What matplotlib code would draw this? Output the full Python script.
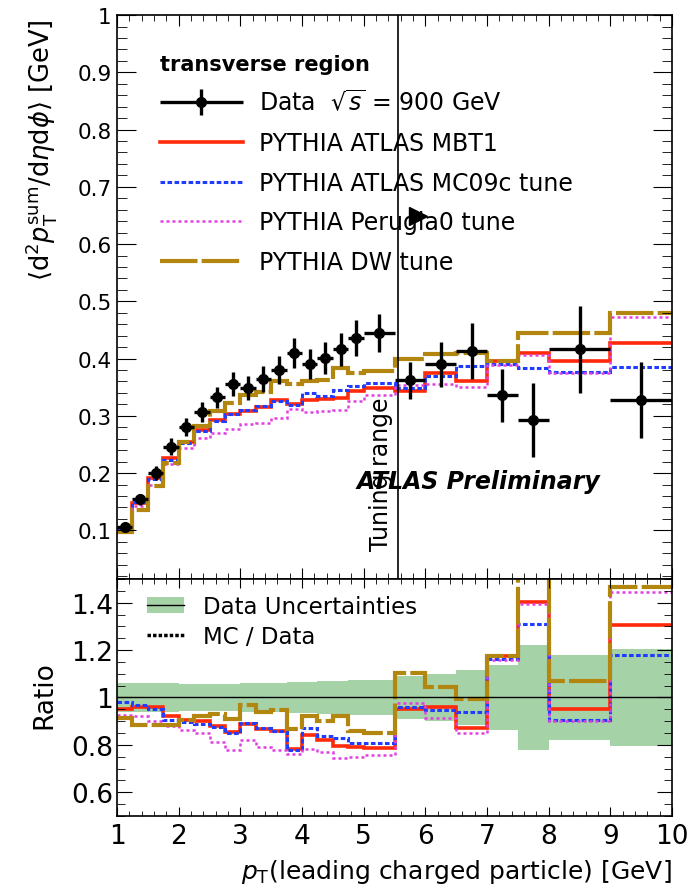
import matplotlib
matplotlib.use("Agg")
import matplotlib.pyplot as plt
import numpy as np
from matplotlib.ticker import MultipleLocator, FuncFormatter
from matplotlib.lines import Line2D
from matplotlib.patches import Patch
from matplotlib.legend_handler import HandlerErrorbar
from matplotlib.container import ErrorbarContainer

plt.rcParams['font.family'] = ['DejaVu Sans']
plt.rcParams['mathtext.fontset'] = 'dejavusans'

# bin edges in leading charged particle pT [GeV]
edges = [1.0, 1.25, 1.5, 1.75, 2.0, 2.25, 2.5, 2.75, 3.0, 3.25, 3.5, 3.75, 4.0,
         4.25, 4.5, 4.75, 5.0, 5.5, 6.0, 6.5, 7.0, 7.5, 8.0, 9.0, 10.0]

# data, sqrt(s) = 900 GeV
data = [0.106, 0.154, 0.200, 0.246, 0.281, 0.307, 0.332, 0.356, 0.348, 0.364, 0.380, 0.410,
        0.390, 0.401, 0.416, 0.436, 0.444, 0.362, 0.390, 0.413, 0.336, 0.292, 0.416, 0.327]
data_err = [0.0064, 0.0092, 0.012, 0.0148, 0.016, 0.0175, 0.0189, 0.0206, 0.0209, 0.0226,
            0.0239, 0.0267, 0.0261, 0.0273, 0.0291, 0.0314, 0.0333, 0.0326, 0.039, 0.0483,
            0.046, 0.0648, 0.0753, 0.0664]

# MC predictions
mbt1 = [0.101, 0.148, 0.192, 0.227, 0.254, 0.276, 0.292, 0.304, 0.309, 0.316, 0.327, 0.320,
        0.328, 0.329, 0.331, 0.344, 0.349, 0.344, 0.374, 0.360, 0.395, 0.409, 0.396, 0.427]
mc09c = [0.104, 0.149, 0.190, 0.223, 0.252, 0.273, 0.291, 0.303, 0.310, 0.317, 0.326, 0.319,
         0.340, 0.335, 0.345, 0.352, 0.358, 0.348, 0.369, 0.387, 0.391, 0.383, 0.376, 0.385]
perugia0 = [0.098, 0.142, 0.180, 0.216, 0.243, 0.261, 0.270, 0.277, 0.285, 0.288, 0.296, 0.312,
            0.306, 0.309, 0.310, 0.326, 0.336, 0.353, 0.356, 0.351, 0.389, 0.407, 0.375, 0.472]
dw = [0.097, 0.136, 0.177, 0.217, 0.254, 0.283, 0.309, 0.323, 0.337, 0.341, 0.360, 0.355,
      0.360, 0.362, 0.383, 0.375, 0.378, 0.400, 0.408, 0.410, 0.395, 0.444, 0.445, 0.480]

edges = np.array(edges)
data = np.array(data)
data_err = np.array(data_err)
centers = 0.5 * (edges[1:] + edges[:-1])
halfw = 0.5 * (edges[1:] - edges[:-1])

red = '#ff2a0a'
blue = '#1f3cff'
magenta = '#e040e0'
gold = '#b3860f'
green = '#a6d2a8'

mc = [
    (mbt1, 'PYTHIA ATLAS MBT1', dict(color=red, lw=2.6, ls='-')),
    (mc09c, 'PYTHIA ATLAS MC09c tune', dict(color=blue, lw=2.2, ls=(0, (1.5, 0.8)))),
    (perugia0, 'PYTHIA Perugia0 tune', dict(color=magenta, lw=1.8, ls=(0, (1.2, 1.2)))),
    (dw, 'PYTHIA DW tune', dict(color=gold, lw=3.0, ls=(0, (9, 1.0)))),
]

fig = plt.figure(figsize=(6.94, 8.95), dpi=100)
ax = fig.add_axes([0.1686, 0.352, 0.7997, 0.630])
ax2 = fig.add_axes([0.1686, 0.0872, 0.7997, 0.2648])

# main panel
for vals, lab, st in mc:
    ax.stairs(vals, edges, baseline=None, **st)
eb = ax.errorbar(centers, data, xerr=halfw, yerr=data_err, fmt='o', color='k', ms=7,
                 elinewidth=2.4, capsize=0)

ax.axvline(5.55, color='k', lw=1.2)
ax.text(5.47, 0.066, 'Tuning range', rotation=90, ha='right', va='bottom', fontsize=17)
ax.plot(5.88, 0.649, marker='>', ms=13, color='k')
ax.text(4.89, 0.187, 'ATLAS Preliminary', fontsize=17, fontweight='bold', fontstyle='italic',
        ha='left', va='center')

ax.set_xlim(1, 10)
ax.set_ylim(0.015, 1.0)
ax.xaxis.set_major_locator(MultipleLocator(1))
ax.xaxis.set_minor_locator(MultipleLocator(0.2))
ax.yaxis.set_major_locator(MultipleLocator(0.1))
ax.yaxis.set_minor_locator(MultipleLocator(0.02))
ax.yaxis.set_major_formatter(FuncFormatter(lambda v, p: '%g' % round(v, 2)))
ax.tick_params(axis='x', which='both', direction='in', top=True, bottom=True, labelbottom=False)
ax.tick_params(axis='x', which='major', length=8)
ax.tick_params(axis='x', which='minor', length=4)
ax.tick_params(axis='y', which='both', direction='in', left=True, right=True, labelsize=15.5, pad=4)
ax.tick_params(axis='y', which='major', length=14)
ax.tick_params(axis='y', which='minor', length=7)
ax.set_ylabel(r'$\langle\mathrm{d}^2p_\mathrm{T}^\mathrm{sum}/\mathrm{d}\eta\mathrm{d}\phi\rangle$ [GeV]',
              fontsize=18.5, ha='right')
ax.yaxis.set_label_coords(-0.105, 0.995)

handles = [eb] + [Line2D([], [], **st) for vals, lab, st in mc]
labels = [r'Data  $\sqrt{s}$ = 900 GeV'] + [lab for vals, lab, st in mc]
leg = ax.legend(handles, labels, loc='upper left', bbox_to_anchor=(160 / 694, 1 - 55 / 895),
                bbox_transform=fig.transFigure, frameon=False, fontsize=17,
                title='transverse region', title_fontproperties={'weight': 'bold', 'size': 15},
                alignment='left', borderpad=0, borderaxespad=0, labelspacing=0.66,
                handlelength=3.5, handletextpad=0.7,
                handler_map={ErrorbarContainer: HandlerErrorbar(xerr_size=1.75, yerr_size=0.55)})

# ratio panel
rel = data_err / data
ax2.stairs(1 + rel, edges, baseline=1 - rel, fill=True, color=green, lw=0)
ax2.axhline(1.0, color='k', lw=1)
for vals, lab, st in mc:
    ax2.stairs(np.array(vals) / data, edges, baseline=None, **st)

ax2.set_xlim(1, 10)
ax2.set_ylim(0.5, 1.5)
ax2.xaxis.set_major_locator(MultipleLocator(1))
ax2.xaxis.set_minor_locator(MultipleLocator(0.2))
ax2.yaxis.set_major_locator(MultipleLocator(0.2))
ax2.yaxis.set_minor_locator(MultipleLocator(0.05))
ax2.yaxis.set_major_formatter(FuncFormatter(lambda v, p: '%g' % round(v, 2) if v < 1.45 else ''))
ax2.tick_params(axis='x', which='both', direction='in', top=True, bottom=True, labelsize=19, pad=5)
ax2.tick_params(axis='x', which='major', length=6.5)
ax2.tick_params(axis='x', which='minor', length=3.5)
ax2.tick_params(axis='y', which='both', direction='in', left=True, right=True, labelsize=19, pad=3)
ax2.tick_params(axis='y', which='major', length=11)
ax2.tick_params(axis='y', which='minor', length=6)
ax2.set_ylabel('Ratio', fontsize=19)
ax2.yaxis.set_label_coords(-0.108, 0.515)
ax2.set_xlabel(r'$p_\mathrm{T}$(leading charged particle) [GeV]', fontsize=18, ha='right')
ax2.xaxis.set_label_coords(1.0, -0.175)

rh = [(Patch(facecolor=green, edgecolor='none'), Line2D([], [], color='k', lw=1)),
      Line2D([], [], color='k', lw=2.5, ls=(0, (1, 0.6)))]
ax2.legend(rh, ['Data Uncertainties', 'MC / Data'], loc='upper left',
           bbox_to_anchor=(147 / 694, 1 - 596 / 895), bbox_transform=fig.transFigure,
           frameon=False, fontsize=16.5, borderpad=0, borderaxespad=0, labelspacing=0.3,
           handlelength=1.6, handletextpad=0.85)

for a in (ax, ax2):
    for s in a.spines.values():
        s.set_linewidth(1.2)

fig.savefig('out.png', dpi=100)
